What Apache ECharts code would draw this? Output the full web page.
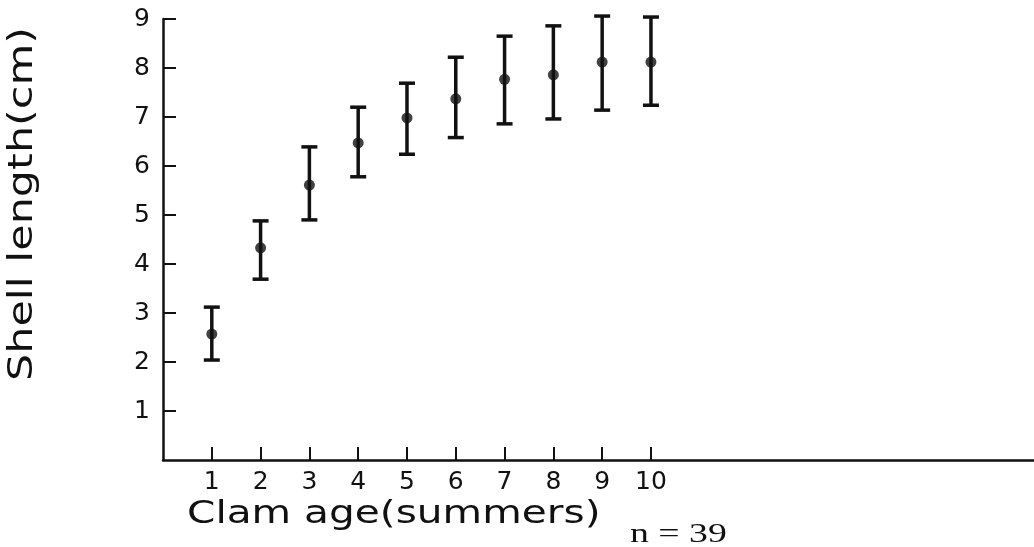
<!DOCTYPE html>
<html>
<head>
<meta charset="utf-8">
<title>Clam shell length by age</title>
<script src="https://cdn.jsdelivr.net/npm/echarts@6/dist/echarts.min.js"></script>
<style>
  html, body { margin: 0; padding: 0; background: #fff; }
  #chart { width: 1034px; height: 547px; }
</style>
</head>
<body>
<div id="chart"></div>
<script>
// values (cm)
var ages = [1, 2, 3, 4, 5, 6, 7, 8, 9, 10];
var meanLength = [2.57, 4.33, 5.61, 6.47, 6.98, 7.37, 7.77, 7.86, 8.12, 8.12];
var lowLength = [2.04, 3.69, 4.90, 5.78, 6.24, 6.58, 6.86, 6.96, 7.14, 7.24];
var highLength = [3.12, 4.88, 6.39, 7.20, 7.69, 8.22, 8.65, 8.86, 9.06, 9.04];
var xTicks = [1, 2, 3, 4, 5, 6, 7, 8, 9, 10];
var yTicks = [1, 2, 3, 4, 5, 6, 7, 8, 9];

var ink = '#111';
var chart = echarts.init(document.getElementById('chart'));

function renderBar(params, api) {
  var x = api.value(0);
  var lo = api.coord([x, api.value(1)]);
  var hi = api.coord([x, api.value(2)]);
  var half = 8;
  var style = { stroke: ink, lineWidth: 3.5 };
  return {
    type: 'group',
    children: [
      { type: 'line', shape: { x1: hi[0], y1: hi[1], x2: lo[0], y2: lo[1] }, style: style },
      { type: 'line', shape: { x1: hi[0] - half, y1: hi[1], x2: hi[0] + half, y2: hi[1] }, style: style },
      { type: 'line', shape: { x1: lo[0] - half, y1: lo[1], x2: lo[0] + half, y2: lo[1] }, style: style }
    ]
  };
}

chart.setOption({
  animation: false,
  grid: { left: 163, right: 0, top: 19, bottom: 87 },
  xAxis: {
    type: 'value',
    min: 0,
    max: 17.85,
    splitLine: { show: false },
    axisLine: { lineStyle: { color: ink, width: 2.5 } },
    axisTick: { inside: true, length: 13, customValues: xTicks, lineStyle: { color: ink, width: 2 } },
    axisLabel: { customValues: xTicks, margin: 10, color: ink, fontSize: 25, fontFamily: 'DejaVu Sans' }
  },
  yAxis: {
    type: 'value',
    min: 0,
    max: 9,
    interval: 1,
    splitLine: { show: false },
    axisLine: { show: true, lineStyle: { color: ink, width: 2.5 } },
    axisTick: { show: true, inside: true, length: 13, customValues: yTicks, lineStyle: { color: ink, width: 2 } },
    axisLabel: { customValues: yTicks, margin: 13, color: ink, fontSize: 25, fontFamily: 'DejaVu Sans' }
  },
  graphic: [
    {
      type: 'text', x: 187, y: 515, scaleX: 1.27,
      style: { text: 'Clam age(summers)', fontSize: 32, fontFamily: 'DejaVu Sans', fill: ink, align: 'left', verticalAlign: 'middle' }
    },
    {
      type: 'text', x: 23, y: 204, rotation: Math.PI / 2, scaleX: 1.3,
      style: { text: 'Shell length(cm)', fontSize: 33, fontFamily: 'DejaVu Sans', fill: ink, align: 'center', verticalAlign: 'middle' }
    },
    {
      type: 'text', x: 630, y: 521, scaleX: 1.35,
      style: { text: 'n = 39', fontSize: 28, fontFamily: 'Liberation Serif', fill: ink, align: 'left', verticalAlign: 'top' }
    }
  ],
  series: [
    {
      type: 'custom',
      renderItem: renderBar,
      data: ages.map(function (a, i) { return [a, lowLength[i], highLength[i]]; }),
      z: 2
    },
    {
      type: 'scatter',
      symbol: 'circle',
      symbolSize: 11,
      itemStyle: { color: ink },
      data: ages.map(function (a, i) { return [a, meanLength[i]]; }),
      z: 3
    }
  ]
});
</script>
</body>
</html>
